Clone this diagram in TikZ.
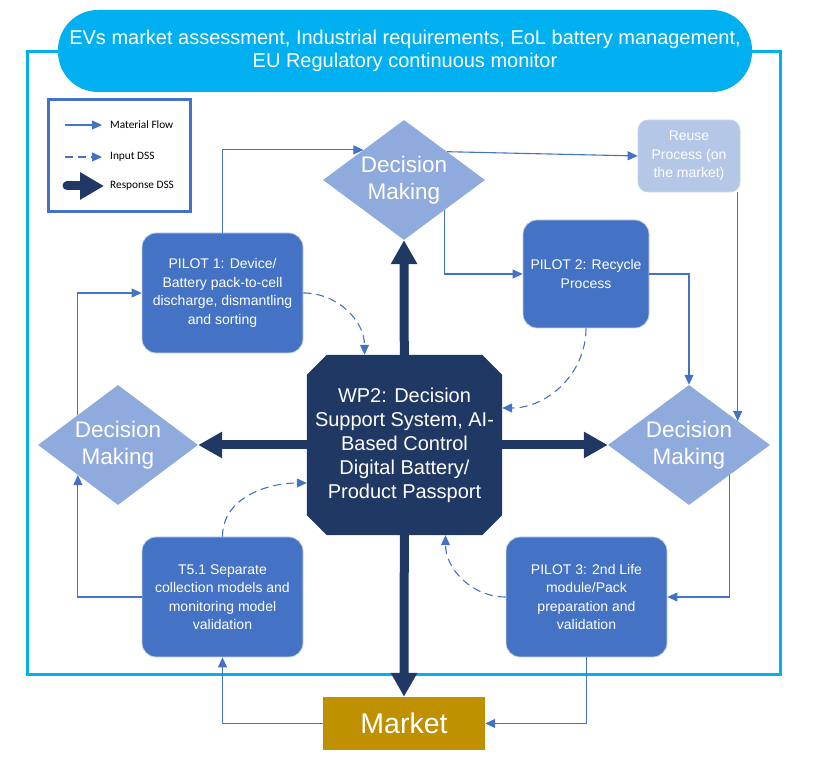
\documentclass[tikz,border=0pt]{standalone}
\usepackage{fontspec}
\setmainfont{Liberation Sans}
\newfontfamily\legfont{Carlito}
\usetikzlibrary{shapes.geometric,shapes.misc,arrows.meta,calc}
\definecolor{cyanF}{HTML}{00B0F0}
\definecolor{blueP}{HTML}{4472C4}
\definecolor{lightD}{HTML}{8FAADC}
\definecolor{reuseC}{HTML}{B4C7E7}
\definecolor{navyD}{HTML}{203864}
\definecolor{goldM}{HTML}{BF9000}
\definecolor{edgeC}{HTML}{C9D2E6}
\tikzset{
  dmk/.style={diamond, fill=lightD, inner sep=0pt, minimum width=162pt, minimum height=120pt},
  dtext/.style={text=white, align=center, font=\fontsize{22.5}{27}\selectfont, inner sep=0pt},
  pbox/.style={rectangle, rounded corners=14pt, fill=blueP, draw=edgeC, line width=0.8pt,
     text=white, align=center, font=\fontsize{14}{18.5}\selectfont, inner sep=2pt},
  flow/.style={blueP, line width=1.1pt, -{Triangle[length=10pt,width=9pt]}},
  dss/.style={flow, dash pattern=on 8pt off 5pt},
  resp/.style={navyD, line width=9pt, -{Triangle[length=24pt,width=25pt]}},
  legtext/.style={font=\legfont\fontsize{11.3}{13}\selectfont, inner sep=0pt, anchor=west}
}
\begin{document}
\begin{tikzpicture}[x=1pt,y=1pt]
\useasboundingbox (0,0) rectangle (820,770);
% frame
\draw[cyanF, line width=3pt] (27,718) rectangle (780,95);
% title pill
\node[rectangle, rounded corners=40pt, fill=cyanF, minimum width=694pt, minimum height=82pt,
  text=white, align=center, font=\fontsize{20}{23.5}\selectfont] (title) at (405,719)
  {EVs market assessment, Industrial requirements, EoL battery management,\\EU Regulatory continuous monitor};
% legend
\node[draw=blueP, line width=3pt, minimum width=142pt, minimum height=112pt, inner sep=0pt] (leg) at (119,614) {};
\node[legtext] (l1) at (110,645) {Material Flow};
\node[legtext] (l2) at (110,613) {Input DSS};
\node[legtext] (l3) at (110,584) {Response DSS};
\coordinate (l1s) at (65,645);
\coordinate (l2s) at (65,613);
\coordinate (l3s) at (67,584);
\draw[flow] (l1s) -- ($(l1.west)+(-8,0)$);
\draw[dss] (l2s) -- ($(l2.west)+(-8,0)$);
\draw[navyD, line width=9pt, line cap=round, -{Triangle[length=24pt,width=26pt]}] (l3s) -- ($(l3.west)+(-6,0)$);
% diamonds
\node[dmk, label={[dtext]center:Decision\\Making}] (dtop) at (404,590) {};
\node[dmk, minimum width=160pt, label={[dtext]center:Decision\\Making}] (dleft) at (118,325) {};
\node[dmk, label={[dtext]center:Decision\\Making}] (dright) at (689,325) {};
% boxes
\node[pbox, minimum width=161pt, minimum height=120pt] (p1) at (222.5,477) {PILOT 1: Device/\\Battery pack-to-cell\\discharge, dismantling\\and sorting};
\node[pbox, minimum width=126pt, minimum height=108pt] (p2) at (586,496) {PILOT 2: Recycle\\Process};
\node[pbox, fill=reuseC, rounded corners=10pt, minimum width=102pt, minimum height=72pt] (reuse) at (689,614) {Reuse\\Process (on\\the market)};
\node[pbox, minimum width=161pt, minimum height=120pt] (t51) at (222.5,173) {T5.1 Separate\\collection models and\\monitoring model\\validation};
\node[pbox, minimum width=161pt, minimum height=120pt] (p3) at (586.5,173) {PILOT 3: 2nd Life\\module/Pack\\preparation and\\validation};
\node[rectangle, fill=goldM, minimum width=162pt, minimum height=53pt, text=white, font=\fontsize{28.5}{32}\selectfont] (market) at (404,46.5) {Market};
% WP2 frame node (invisible), response arrows behind it
\node[rectangle, inner sep=0pt, minimum width=195pt, minimum height=180pt] (wp) at (404.5,325) {};
\draw[resp] (wp.center) -- (dtop.south);
\draw[resp] (wp.center) -- (dleft.east);
\draw[resp] (wp.center) -- (dright.west);
\draw[resp] (wp.center) -- (market.north);
\fill[navyD] ($(wp.north west)+(20,0)$) -- ($(wp.north east)+(-20,0)$) -- ($(wp.north east)+(0,-20)$)
  -- ($(wp.south east)+(0,20)$) -- ($(wp.south east)+(-20,0)$) -- ($(wp.south west)+(20,0)$)
  -- ($(wp.south west)+(0,20)$) -- ($(wp.north west)+(0,-20)$) -- cycle;
\node[text=white, align=center, font=\fontsize{20}{24}\selectfont, inner sep=0pt] (wpt) at (404.5,325)
  {WP2: Decision\\Support System, AI-\\Based Control\\Digital Battery/\\Product Passport};
% material flow
\draw[flow] (p1.north) |- ($(dtop.west)!0.5!(dtop.north)$);
\draw[flow] ($(dtop.north)!0.53!(dtop.east)$) -- (reuse.west);
\draw[flow] ($(dtop.east)!0.5!(dtop.south)$) |- (p2.west);
\draw[flow] (p2.east) -| (dright.north);
\coordinate (rin) at ($(dright.north)!0.6!(dright.east)$);
\draw[flow] (reuse.south -| rin) -- (rin);
\draw[flow] ($(dright.east)!0.5!(dright.south)$) |- (p3.east);
\draw[flow] (p3.south) |- (market.east);
\draw[flow] (market.west) -| (t51.south);
\draw[flow] (t51.west) -| ($(dleft.west)!0.5!(dleft.south)$);
\draw[flow] ($(dleft.west)!0.5!(dleft.north)$) |- (p1.west);
% input DSS
\draw[dss] (p1.east) to[out=0,in=90] ($(wp.north)+(-40,0)$);
\draw[dss] (p2.south) to[out=-90,in=0] ($(wp.east)+(0,37)$);
\draw[dss] (t51.north) to[out=90,in=180] ($(wp.west)+(0,-38)$);
\draw[dss] (p3.west) to[out=180,in=-90] ($(wp.south)+(41,0)$);
\end{tikzpicture}
\end{document}
